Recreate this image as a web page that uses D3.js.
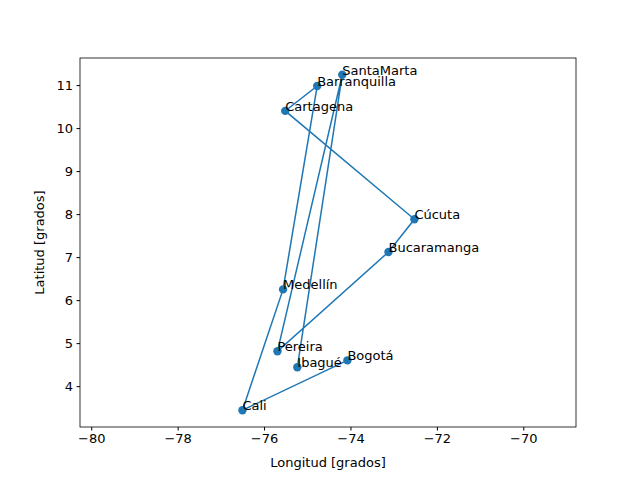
<!DOCTYPE html>
<html><head><meta charset="utf-8">
<script src="https://cdn.jsdelivr.net/npm/d3@7"></script>
<style>body{margin:0;background:#fff}text{font-family:"DejaVu Sans",sans-serif}</style>
</head><body><svg id="c" width="640" height="480"></svg>
<script>
var cities = ["Bogotá","Cali","Medellín","Barranquilla","Cartagena","Cúcuta","Bucaramanga","Pereira","SantaMarta","Ibagué"];
var lon = [-74.07,-76.50,-75.56,-74.77,-75.51,-72.52,-73.12,-75.69,-74.19,-75.23];
var lat = [4.60,3.44,6.25,10.98,10.40,7.88,7.12,4.81,11.24,4.44];
var xTicks = [-80,-78,-76,-74,-72,-70];
var yTicks = [4,5,6,7,8,9,10,11];

var svg = d3.select("#c");
var L = 80, R = 576, T = 58, B = 427;
var x = d3.scaleLinear().domain([-80.26,-68.78]).range([L,R]);
var y = d3.scaleLinear().domain([3.05,11.63]).range([B,T]);
var col = "#1f77b4";
var fs = 13;

svg.append("g").attr("transform","translate(0,"+B+")")
  .call(d3.axisBottom(x).tickValues(xTicks).tickSizeOuter(0).tickSize(3.5).tickPadding(3.5).tickFormat(d => d < 0 ? "\u2212" + Math.abs(d) : d))
  .call(g => g.select(".domain").remove())
  .selectAll("text").attr("font-size",fs).attr("fill","#000");
svg.append("g").attr("transform","translate("+L+",0)")
  .call(d3.axisLeft(y).tickValues(yTicks).tickSizeOuter(0).tickSize(3.5).tickPadding(3.5))
  .call(g => g.select(".domain").remove())
  .selectAll("text").attr("font-size",fs).attr("fill","#000");
svg.append("rect").attr("x",L).attr("y",T).attr("width",R-L).attr("height",B-T)
  .attr("fill","none").attr("stroke","#000").attr("stroke-width",0.8);

var idx = d3.range(cities.length);
svg.append("path").datum(idx)
  .attr("d", d3.line().x(i => x(lon[i])).y(i => y(lat[i])))
  .attr("fill","none").attr("stroke",col).attr("stroke-width",1.5);
svg.selectAll("circle").data(idx).join("circle")
  .attr("cx", i => x(lon[i])).attr("cy", i => y(lat[i])).attr("r",4.2).attr("fill",col);
svg.selectAll("text.lbl").data(idx).join("text").attr("class","lbl")
  .attr("x", i => x(lon[i])).attr("y", i => y(lat[i]))
  .attr("font-size",fs).text(i => cities[i]);

svg.append("text").attr("x",(L+R)/2).attr("y",467).attr("text-anchor","middle")
  .attr("font-size",fs).text("Longitud [grados]");
svg.append("text").attr("transform","translate(44,"+((T+B)/2)+") rotate(-90)")
  .attr("text-anchor","middle").attr("font-size",fs).text("Latitud [grados]");
</script></body></html>
